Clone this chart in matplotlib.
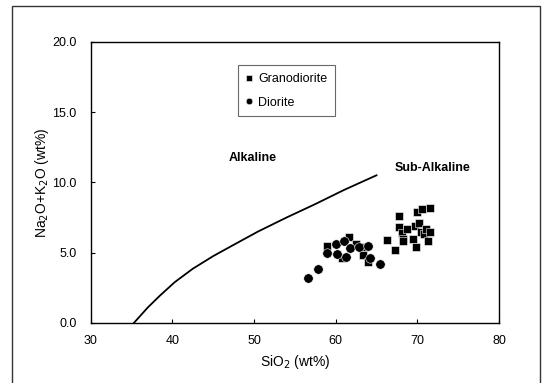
import numpy as np
import matplotlib
matplotlib.use("Agg")
import matplotlib.pyplot as plt
from matplotlib.patches import Rectangle

plt.rcParams['font.family'] = ['Liberation Sans', 'DejaVu Sans']

# alkaline / sub-alkaline dividing line
line_sio2 = [35.3, 37.0, 38.5, 40.3, 42.5, 45.0, 47.5, 50.5, 54.0, 57.5, 61.0, 65.0]
line_alk = [0.0, 1.1, 1.95, 2.9, 3.85, 4.75, 5.55, 6.5, 7.5, 8.45, 9.45, 10.5]

grano_sio2 = [58.9, 61.6, 60.8, 62.5, 63.4, 63.9, 63.5, 66.3, 67.3, 67.7,
              67.8, 68.1, 68.2, 68.3, 68.7, 69.5, 69.7, 69.8, 69.9, 70.2,
              70.4, 70.6, 70.8, 71.1, 71.3, 71.5, 71.6]
grano_alk = [5.5, 6.1, 4.6, 5.6, 4.8, 4.3, 5.4, 5.9, 5.2, 7.6,
             6.8, 6.4, 6.0, 5.8, 6.7, 6.0, 6.9, 5.4, 7.9, 7.1,
             6.5, 8.1, 6.3, 6.7, 5.8, 6.5, 8.2]

dio_sio2 = [56.6, 57.8, 58.9, 60.0, 60.2, 61.0, 61.3, 61.7, 62.8, 64.0, 64.2, 65.4]
dio_alk = [3.2, 3.8, 5.0, 5.6, 4.9, 5.8, 4.7, 5.3, 5.4, 5.5, 4.6, 4.2]

fig = plt.figure(figsize=(5.43, 3.83), dpi=100)
ax = fig.add_axes([0.167, 0.157, 0.752, 0.734])

ax.plot(line_sio2, line_alk, color='black', linewidth=1.3)
ax.plot(grano_sio2, grano_alk, 's', color='black', markersize=5.3,
        markeredgecolor='white', markeredgewidth=0.4, label='Granodiorite')
ax.plot(dio_sio2, dio_alk, 'o', color='black', markersize=6.8,
        markeredgecolor='white', markeredgewidth=0.4, label='Diorite')

ax.text(49.8, 11.7, 'Alkaline', fontsize=9, fontweight='bold', ha='center', va='center')
ax.text(71.9, 11.0, 'Sub-Alkaline', fontsize=9, fontweight='bold', ha='center', va='center')

ax.set_xlim(30, 80)
ax.set_ylim(0, 20)
ax.set_xticks([30, 40, 50, 60, 70, 80])
ax.set_yticks([0, 5, 10, 15, 20])
ax.set_yticklabels(['0.0', '5.0', '10.0', '15.0', '20.0'])
ax.tick_params(direction='in', length=3, labelsize=9, pad=9)
ax.tick_params(axis='y', pad=10)
for s in ax.spines.values():
    s.set_linewidth(1.0)

ax.set_xlabel('SiO$_2$ (wt%)', fontsize=10, labelpad=4)
ax.set_ylabel('Na$_2$O+K$_2$O (wt%)', fontsize=10, labelpad=1)

leg = ax.legend(loc='upper left', bbox_to_anchor=(0.346, 0.938), fontsize=9,
                frameon=True, fancybox=False, handlelength=0.6,
                handletextpad=0.4, labelspacing=0.95, borderpad=0.6,
                markerscale=0.7)
leg.get_frame().set_edgecolor('#444444')
leg.get_frame().set_linewidth(0.8)

# outer frame around the figure
fig.patches.append(Rectangle((12 / 543, -0.05), (540 - 12) / 543, 1.05 - 6 / 383,
                             transform=fig.transFigure, fill=False,
                             edgecolor='#333333', linewidth=1.0))

fig.savefig('out.png', dpi=100)
